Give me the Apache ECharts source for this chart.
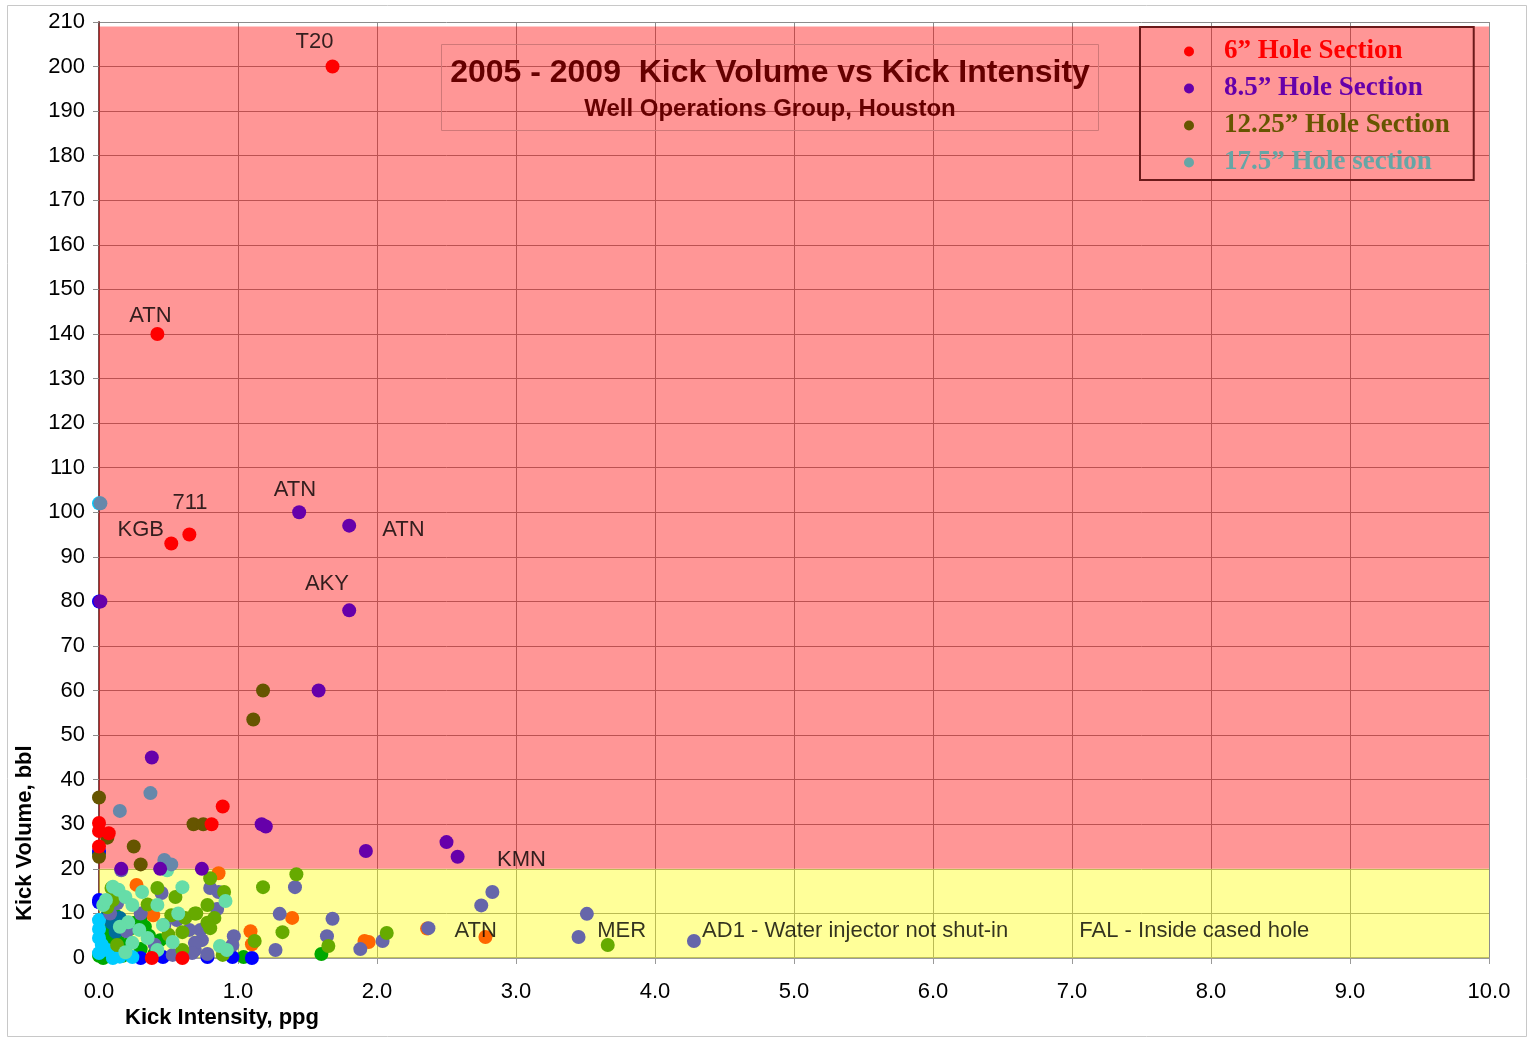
<!DOCTYPE html>
<html>
<head>
<meta charset="utf-8">
<title>Kick Volume vs Kick Intensity</title>
<script src="https://cdn.jsdelivr.net/npm/echarts@6/dist/echarts.min.js"></script>
<style>
  html, body { margin: 0; padding: 0; background: #fff; }
  #main { width: 1528px; height: 1037px; }
</style>
</head>
<body>
<div id="main"></div>
<script>
// axis ticks
var xTicks = [0, 1, 2, 3, 4, 5, 6, 7, 8, 9, 10];
var yTicks = [0, 10, 20, 30, 40, 50, 60, 70, 80, 90, 100, 110, 120, 130, 140, 150, 160, 170, 180, 190, 200, 210];

// kick points, [intensity ppg, volume bbl]
var hole6 = [[1.68, 200], [0.42, 140], [0.65, 95], [0.52, 93], [0.89, 34], [0.81, 30], [0, 30.3], [0, 28.5],
  [0.07, 28], [0, 25], [0.38, 0], [0.6, 0]];
var hole85 = [[1.44, 100], [1.8, 97], [1.8, 78], [1.58, 60], [0.38, 45], [1.17, 30], [1.2, 29.5], [1.92, 24],
  [2.5, 26], [2.58, 22.7], [0.01, 80], [0.16, 20], [0.44, 20], [0.74, 20]];
var hole1225 = [[1.18, 60], [1.11, 53.5], [0, 36], [0.06, 27], [0.25, 25], [0.3, 21], [0.68, 30], [0.75, 30], [0, 22.7]];
var hole175 = [[0.01, 102], [0.15, 33], [0.37, 37], [0.47, 22], [0.52, 21]];

// other kicks in the cluster (not in the legend)
var slatePts = [[2.83, 14.8], [2.75, 11.8], [3.51, 9.9], [3.45, 4.7], [4.28, 3.8], [2.37, 6.7], [2.04, 3.8], [1.88, 2],
  [1.68, 8.8], [1.64, 4.9], [1.3, 9.9], [1.27, 1.8], [1.41, 15.9], [0.97, 4.9], [0.8, 15.7], [0.86, 14.8], [0.85, 11],
  [0.73, 6.3], [0.74, 4], [0.96, 2.9], [0.78, 0.9], [0.69, 1.8], [0.16, 19.7], [0.45, 14.6], [0.13, 12.3], [0.47, 7.4],
  [0.65, 6.3], [0.69, 3.4], [0.67, 1.1], [0.53, 0.7], [0.3, 10], [0.2, 6], [0.08, 10], [0.4, 3], [0.56, 8.5]];
var orangePts = [[0.86, 19], [0.27, 16.4], [0.39, 9.6], [1.39, 9], [1.09, 6], [1.1, 3.1], [1.91, 3.8], [1.94, 3.6],
  [2.36, 6.6], [2.78, 4.7]];
var limePts = [[0.09, 15.7], [0.42, 15.7], [0.55, 13.7], [0.06, 11.4], [0.52, 9.6], [0.69, 10], [0.62, 9], [0.5, 5.2],
  [0.6, 5.8], [0.13, 2.9], [0.6, 1.8], [0.8, 17.9], [1.42, 18.8], [1.18, 15.9], [0.9, 14.8], [0.78, 11.9], [0.7, 10],
  [0.83, 9], [0.78, 7.9], [0.8, 6.7], [1.32, 5.8], [1.12, 3.8], [0.89, 0.7], [1.65, 2.7], [2.07, 5.6], [3.66, 2.9],
  [0.1, 13], [0.35, 12]];
var greenPts = [[0.03, 0], [0.26, 7.9], [0.14, 5.2], [0.33, 7], [0.08, 3.4], [0.2, 3], [0.3, 2], [0.36, 5], [0.4, 1],
  [0.1, 1], [0.05, 6], [0.44, 4], [0.22, 6.5], [1.04, 0.2], [1.6, 0.9], [0.17, 0.5], [0.3, 9], [0.12, 9.5], [0, 0.5], [0, 23.5]];
var tealPts = [[0.09, 7.9], [0.12, 5.8], [0.06, 9.5], [0.15, 9]];
var bluePts = [[0, 80], [0, 13], [0, 12.5], [0.46, 0.2], [0.78, 0.2], [0.96, 0.2], [1.1, 0], [0, 24], [0.3, 0]];
var cyanPts = [[0, 102], [0, 8.5], [0, 4.5], [0.06, 1.8], [0, 1.1], [0.24, 0.2], [0, 6.5], [0.02, 3], [0.15, 0.3], [0.1, 0]];
var aquaPts = [[0.14, 15.3], [0.19, 13.7], [0.31, 14.8], [0.49, 19.7], [0.6, 15.9], [0.42, 11.9], [0.24, 11.9], [0.03, 11.9],
  [0.57, 10], [0.21, 8], [0.29, 6.3], [0.35, 4.5], [0.24, 3.4], [0.42, 1.8], [0.53, 3.6], [0.19, 1.3], [0.15, 7], [0.46, 7.4],
  [0.91, 12.8], [0.87, 2.7], [0.92, 1.8], [0.1, 16], [0.05, 13]];

// well names written on the chart
var noteText = ['T20', 'ATN', '711', 'KGB', 'ATN', 'ATN', 'AKY', 'KMN', 'ATN', 'MER',
  'AD1 - Water injector not shut-in', 'FAL - Inside cased hole'];
var noteX = [1.55, 0.37, 0.655, 0.3, 1.41, 2.19, 1.64, 3.04, 2.71, 3.76, 5.44, 7.88];
var noteY = [205.5, 144, 102, 96, 105, 96, 84, 22, 6, 6, 6, 6];

// zones: yellow below 20 bbl, red above
var yellowTop = 20;
var redTop = 209;

var legendNames = ['6\u201d Hole Section', '8.5\u201d Hole Section', '12.25\u201d Hole Section', '17.5\u201d Hole section'];
var legendColors = ['#ff0000', '#6600aa', '#665500', '#66a6a6'];

var myChart = echarts.init(document.getElementById('main'));

function dots(name, data, color) {
  return {
    name: name,
    type: 'scatter',
    symbol: 'circle',
    symbolSize: 14,
    data: data,
    itemStyle: { color: color, opacity: 1 },
    emphasis: { disabled: true }
  };
}

var notes = noteText.map(function (t, i) {
  return { name: t, value: [noteX[i], noteY[i]] };
});

var zonesSeries = dots('zones', [], '#fff');
zonesSeries.markArea = {
  silent: true,
  itemStyle: { opacity: 1 },
  data: [
    [{ coord: [0, 0], itemStyle: { color: 'rgba(255,255,0,0.4)' } }, { coord: [10, yellowTop] }],
    [{ coord: [0, yellowTop], itemStyle: { color: 'rgba(255,0,0,0.41)' } }, { coord: [10, redTop] }]
  ]
};

var option = {
  animation: false,
  backgroundColor: '#fff',
  title: {
    text: '2005 - 2009  Kick Volume vs Kick Intensity',
    subtext: 'Well Operations Group, Houston',
    left: 761,
    top: 44,
    textAlign: 'center',
    padding: [12, 9, 9, 9],
    itemGap: 6,
    borderColor: '#d07878',
    borderWidth: 1,
    textStyle: { fontFamily: 'Liberation Sans', fontWeight: 'bold', fontSize: 32, lineHeight: 34, color: '#660000' },
    subtextStyle: { fontFamily: 'Liberation Sans', fontWeight: 'bold', fontSize: 24, lineHeight: 26, color: '#660000' }
  },
  legend: {
    data: legendNames.map(function (n, i) {
      return { name: n, textStyle: { color: legendColors[i] }, itemStyle: { color: legendColors[i] } };
    }),
    orient: 'vertical',
    left: 1140,
    top: 27,
    padding: [11, 24, 4, 44],
    itemGap: 10,
    itemWidth: 10,
    itemHeight: 10,
    icon: 'circle',
    borderColor: '#6b1a1a',
    borderWidth: 2,
    selectedMode: false,
    textStyle: { fontFamily: 'Liberation Serif', fontWeight: 'bold', fontSize: 27, lineHeight: 27, padding: [0, 0, 0, 25] }
  },
  grid: { left: 99, right: 39, top: 22, bottom: 79, containLabel: false },
  xAxis: {
    type: 'value',
    min: xTicks[0],
    max: xTicks[xTicks.length - 1],
    interval: 1,
    axisLine: { show: true, lineStyle: { color: '#9a9a9a', width: 2 } },
    axisTick: { show: true, length: 6, lineStyle: { color: '#9a9a9a' } },
    splitLine: { show: true, lineStyle: { color: '#8c8c8c', width: 1 } },
    axisLabel: {
      fontFamily: 'Liberation Sans', fontSize: 22, color: '#000', margin: 23,
      formatter: function (v) { return v.toFixed(1); }
    }
  },
  yAxis: {
    type: 'value',
    min: yTicks[0],
    max: yTicks[yTicks.length - 1],
    interval: 10,
    axisLine: { show: true, lineStyle: { color: '#7a4848', width: 2 } },
    axisTick: { show: true, length: 6, lineStyle: { color: '#8c8c8c' } },
    splitLine: { show: true, lineStyle: { color: '#8c8c8c', width: 1 } },
    axisLabel: { fontFamily: 'Liberation Sans', fontSize: 22, color: '#000', margin: 14 }
  },
  graphic: [
    // outer frame of the picture
    { type: 'rect', left: 5, top: 3, shape: { width: 1519, height: 1031 }, style: { fill: null, stroke: '#c8c8c8', lineWidth: 1 }, silent: true },
    {
      type: 'text', left: 125, top: 1007,
      style: { text: 'Kick Intensity, ppg', font: 'bold 22px "Liberation Sans"', fill: '#000' }
    },
    {
      type: 'text', x: 14, y: 921, rotation: Math.PI / 2,
      style: { text: 'Kick Volume, bbl', font: 'bold 22px "Liberation Sans"', fill: '#000', align: 'left', verticalAlign: 'top' }
    }
  ],
  series: [
    zonesSeries,
    dots('green', greenPts, '#00a800'),
    dots('teal', tealPts, '#006e9a'),
    dots('blue', bluePts, '#0000ff'),
    dots('cyan', cyanPts, '#00ccff'),
    dots('orange', orangePts, '#ff6600'),
    dots('slate', slatePts, '#6666aa'),
    dots('lime', limePts, '#66aa00'),
    dots('aqua', aquaPts, '#66dda8'),
    dots(legendNames[3], hole175, '#6688aa'),
    dots(legendNames[2], hole1225, '#665500'),
    dots(legendNames[0], hole6, '#ff0000'),
    dots(legendNames[1], hole85, '#6600aa'),
    {
      name: 'notes',
      type: 'scatter',
      symbolSize: 0,
      silent: true,
      data: notes,
      z: 5,
      label: {
        show: true,
        position: 'inside',
        formatter: '{b}',
        fontFamily: 'Liberation Sans',
        fontSize: 22,
        color: '#000'
      }
    }
  ]
};

myChart.setOption(option);
</script>
</body>
</html>
